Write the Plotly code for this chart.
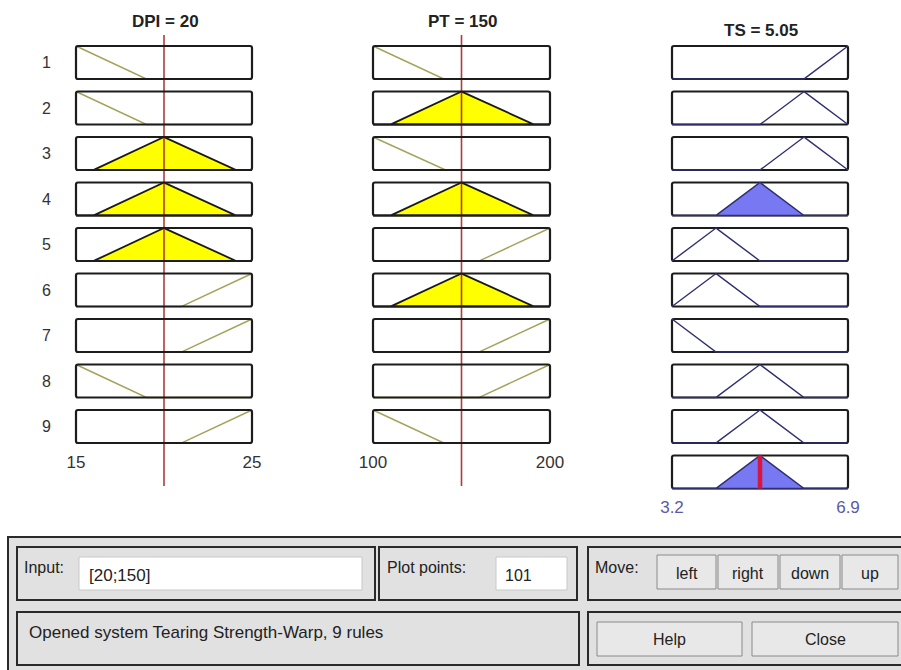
import numpy as np
import plotly.graph_objects as go

W, H = 901, 670

# ---------------- data ----------------
dpi_range = [15, 25]
pt_range = [100, 200]
ts_range = [3.2, 6.9]
dpi_input = 20
pt_input = 150
ts_output = 5.05
plot_points = 101

dpi_mf_names = ["low", "med", "high"]
dpi_mf_params = [[11, 15, 19], [16, 20, 24], [21, 25, 29]]
pt_mf_names = ["low", "med", "high"]
pt_mf_params = [[60, 100, 140], [110, 150, 190], [160, 200, 240]]
ts_mf_names = ["lowest", "low", "mid", "high", "highest"]
ts_mf_params = [[2.275, 3.2, 4.125], [3.2, 4.125, 5.05], [4.125, 5.05, 5.975],
                [5.05, 5.975, 6.9], [5.975, 6.9, 7.825]]

rule_labels = ["1", "2", "3", "4", "5", "6", "7", "8", "9"]
rule_dpi = ["low", "low", "med", "med", "med", "high", "high", "low", "high"]
rule_pt = ["low", "med", "low", "med", "high", "med", "high", "high", "low"]
rule_ts = ["highest", "high", "high", "mid", "low", "low", "lowest", "mid", "mid"]

input_text = "[20;150]"
status_text = "Opened system Tearing Strength-Warp, 9 rules"

# ---------------- layout helpers ----------------
ROW0 = 79.0      # pixel y of mu=0 of row 1
BOXH = 33.0      # pixel height of a box
PITCH = 45.5     # pixel distance between rows


def base(i):
    """y-value (axis units) of mu=0 for row i (0-based)."""
    return -i * PITCH / BOXH


def ypix(p):
    return (ROW0 - p) / BOXH


Y_RANGE = [ypix(H), ypix(0)]


def px(xp):
    return xp / W


def py(yp):
    return 1 - yp / H


def trimf(x, p):
    a, b, c = p
    x = np.asarray(x, dtype=float)
    left = (x - a) / (b - a)
    right = (c - x) / (c - b)
    return np.clip(np.minimum(left, right), 0, 1)


FONT = "Liberation Sans, Arial, sans-serif"

fig = go.Figure()

cols = [
    ("", dpi_range, 76, 252),
    ("2", pt_range, 373, 550),
    ("3", ts_range, 672, 848),
]
PAD = 5
layout_axes = {}
for suf, rng, l, r in cols:
    scale = (rng[1] - rng[0]) / (r - l)
    layout_axes["xaxis" + suf] = dict(
        domain=[px(l - PAD), px(r + PAD)],
        range=[rng[0] - PAD * scale, rng[1] + PAD * scale],
        showgrid=False, zeroline=False, showline=False, fixedrange=True,
        automargin=False,
    )
    layout_axes["yaxis" + suf] = dict(
        domain=[0, 1], range=Y_RANGE, visible=False, fixedrange=True,
        anchor="x" + suf, automargin=False,
    )

shapes = []
annotations = []


def box_path(x0, x1, y0, y1, rx, ry):
    """Rectangle outline with slightly rounded corners (data coords)."""
    return ("M {a},{y0} L {b},{y0} Q {x1},{y0} {x1},{c} L {x1},{d} Q {x1},{y1} {b},{y1} "
            "L {a},{y1} Q {x0},{y1} {x0},{d} L {x0},{c} Q {x0},{y0} {a},{y0} Z").format(
        a=x0 + rx, b=x1 - rx, c=y0 + ry, d=y1 - ry, x0=x0, x1=x1, y0=y0, y1=y1)


def add_box(suf, rng, b, layer):
    rx = (rng[1] - rng[0]) * 2.0 / 176
    ry = 2.0 / BOXH
    shapes.append(dict(type="path", xref="x" + suf, yref="y" + suf,
                       path=box_path(rng[0], rng[1], b, b + 1, rx, ry),
                       line=dict(color="#1c1c1c", width=2.2), layer=layer))


# ---------------- input columns ----------------
inputs = [
    ("", dpi_range, dpi_input, dpi_mf_names, dpi_mf_params, rule_dpi),
    ("2", pt_range, pt_input, pt_mf_names, pt_mf_params, rule_pt),
]
firing = np.ones(len(rule_labels))
for suf, rng, val, names, params, rule_col in inputs:
    xs = np.linspace(rng[0], rng[1], plot_points)
    for i, mfname in enumerate(rule_col):
        p = params[names.index(mfname)]
        mu = trimf(xs, p)
        mu_in = float(trimf([val], p)[0])
        firing[i] = min(firing[i], mu_in)
        b = base(i)
        add_box(suf, rng, b, "above")
        if mu_in > 0:
            clipped = np.minimum(mu, mu_in)
            fig.add_trace(go.Scatter(
                x=np.concatenate([xs, xs[::-1]]),
                y=np.concatenate([b + clipped, np.full(len(xs), b)]),
                fill="toself", fillcolor="#ffff00", mode="lines",
                line=dict(color="#1a1a1a", width=1.8),
                xaxis="x" + suf, yaxis="y" + suf, hoverinfo="skip", showlegend=False))
        else:
            fig.add_trace(go.Scatter(
                x=xs, y=b + mu, mode="lines",
                line=dict(color="#a3a35a", width=1.4),
                xaxis="x" + suf, yaxis="y" + suf, hoverinfo="skip", showlegend=False))
    fig.add_trace(go.Scatter(
        x=[val, val], y=[ypix(35), ypix(486)], mode="lines",
        line=dict(color="rgba(165,40,40,0.9)", width=1.6),
        xaxis="x" + suf, yaxis="y" + suf, hoverinfo="skip", showlegend=False))

# ---------------- output column ----------------
xs = np.linspace(ts_range[0], ts_range[1], plot_points)
agg = np.zeros(plot_points)
OUT_LINE = "#2e2e72"
OUT_FILL = "#7878f2"
for i, mfname in enumerate(rule_ts):
    p = ts_mf_params[ts_mf_names.index(mfname)]
    mu = trimf(xs, p)
    b = base(i)
    w = firing[i]
    add_box("3", ts_range, b, "below")
    if w > 0:
        clipped = np.minimum(mu, w)
        agg = np.maximum(agg, clipped)
        fig.add_trace(go.Scatter(
            x=np.concatenate([xs, xs[::-1]]),
            y=np.concatenate([b + clipped, np.full(len(xs), b)]),
            fill="toself", fillcolor=OUT_FILL, mode="lines",
            line=dict(color=OUT_LINE, width=1.5),
            xaxis="x3", yaxis="y3", hoverinfo="skip", showlegend=False))
    else:
        fig.add_trace(go.Scatter(
            x=xs, y=b + mu, mode="lines", line=dict(color=OUT_LINE, width=1.4),
            xaxis="x3", yaxis="y3", hoverinfo="skip", showlegend=False))

b = base(len(rule_ts))
add_box("3", ts_range, b, "below")
fig.add_trace(go.Scatter(
    x=np.concatenate([xs, xs[::-1]]),
    y=np.concatenate([b + agg, np.full(len(xs), b)]),
    fill="toself", fillcolor=OUT_FILL, mode="lines",
    line=dict(color=OUT_LINE, width=1.5),
    xaxis="x3", yaxis="y3", hoverinfo="skip", showlegend=False))
fig.add_trace(go.Scatter(
    x=[ts_output, ts_output], y=[b, b + 1], mode="lines",
    line=dict(color="#d8153c", width=4.5),
    xaxis="x3", yaxis="y3", hoverinfo="skip", showlegend=False))

# tick labels via real axes
for suf, rng, pos, col, tl in [("", dpi_range, 443, "#333", 4),
                               ("2", pt_range, 443, "#333", 4),
                               ("3", ts_range, 489, "#5a5aa8", 3)]:
    layout_axes["xaxis" + suf].update(
        anchor="free", position=py(pos), tickvals=rng,
        ticktext=[str(v) for v in rng], ticks="outside", ticklen=tl,
        tickcolor="rgba(0,0,0,0)", tickfont=dict(size=17, color=col, family=FONT))

# row numbers
for i, lab in enumerate(rule_labels):
    annotations.append(dict(text=lab, xref="paper", yref="y", x=px(46),
                            y=base(i) + 0.5, showarrow=False, xanchor="center",
                            yanchor="middle",
                            font=dict(size=16, color="#333", family=FONT)))

# titles
for t, x, y in [("<b>DPI = %g</b>" % dpi_input, 165, 21),
                ("<b>PT = %g</b>" % pt_input, 462, 21),
                ("<b>TS = %.2f</b>" % ts_output, 761, 31)]:
    annotations.append(dict(text=t, xref="paper", yref="paper", x=px(x), y=py(y),
                            xanchor="center", yanchor="middle", showarrow=False,
                            font=dict(size=17, color="#222", family=FONT)))

# ---------------- bottom control panel ----------------
def prect(x0, y0, x1, y1, fill, line, width=1, layer="below"):
    shapes.append(dict(type="rect", xref="paper", yref="paper",
                       x0=px(x0), x1=px(x1), y0=py(y1), y1=py(y0),
                       fillcolor=fill, line=dict(color=line, width=width), layer=layer))


def ptext(t, x, y, anchor="left", size=16, color="#222"):
    annotations.append(dict(text=t, xref="paper", yref="paper", x=px(x), y=py(y),
                            xanchor=anchor, yanchor="middle", showarrow=False,
                            font=dict(size=size, color=color, family=FONT)))


GRAY = "#e1e1e1"
prect(8, 537, 905, 675, GRAY, "#2a2a2a", 2)
prect(17, 547, 375, 600, GRAY, "#2a2a2a", 2)
prect(379, 547, 577, 600, GRAY, "#2a2a2a", 2)
prect(588, 547, 905, 600, GRAY, "#2a2a2a", 2)
prect(17, 612, 579, 665, GRAY, "#2a2a2a", 2)
prect(588, 612, 905, 665, GRAY, "#2a2a2a", 2)
prect(79, 557, 362, 590, "#ffffff", "#c8c8c8", 1)
prect(496, 557, 567, 590, "#ffffff", "#c8c8c8", 1)
for x0, x1, lab in [(657, 716, "left"), (718, 778, "right"), (780, 840, "down"),
                    (842, 898, "up")]:
    prect(x0, 555, x1, 589, "#e8e8e8", "#8a8a8a", 1)
    ptext(lab, (x0 + x1) / 2, 573, "center", 16)
for x0, x1, lab in [(597, 742, "Help"), (752, 898, "Close")]:
    prect(x0, 622, x1, 656, "#e8e8e8", "#8a8a8a", 1)
    ptext(lab, (x0 + x1) / 2, 639, "center", 16)

ptext("Input:", 22, 567)
ptext(input_text, 87, 575, size=17)
ptext("Plot points:", 385, 567)
ptext(str(plot_points), 503, 575)
ptext("Move:", 593, 567)
ptext(status_text, 27, 632, size=17)

fig.update_layout(
    width=W, height=H, margin=dict(l=0, r=0, t=0, b=0, pad=0, autoexpand=False),
    paper_bgcolor="white", plot_bgcolor="rgba(0,0,0,0)",
    shapes=shapes, annotations=annotations, showlegend=False,
    **layout_axes,
)

fig.write_html("out.html", config={"displayModeBar": False},
               post_script="document.body.style.margin='0';document.body.style.overflow='hidden';")
